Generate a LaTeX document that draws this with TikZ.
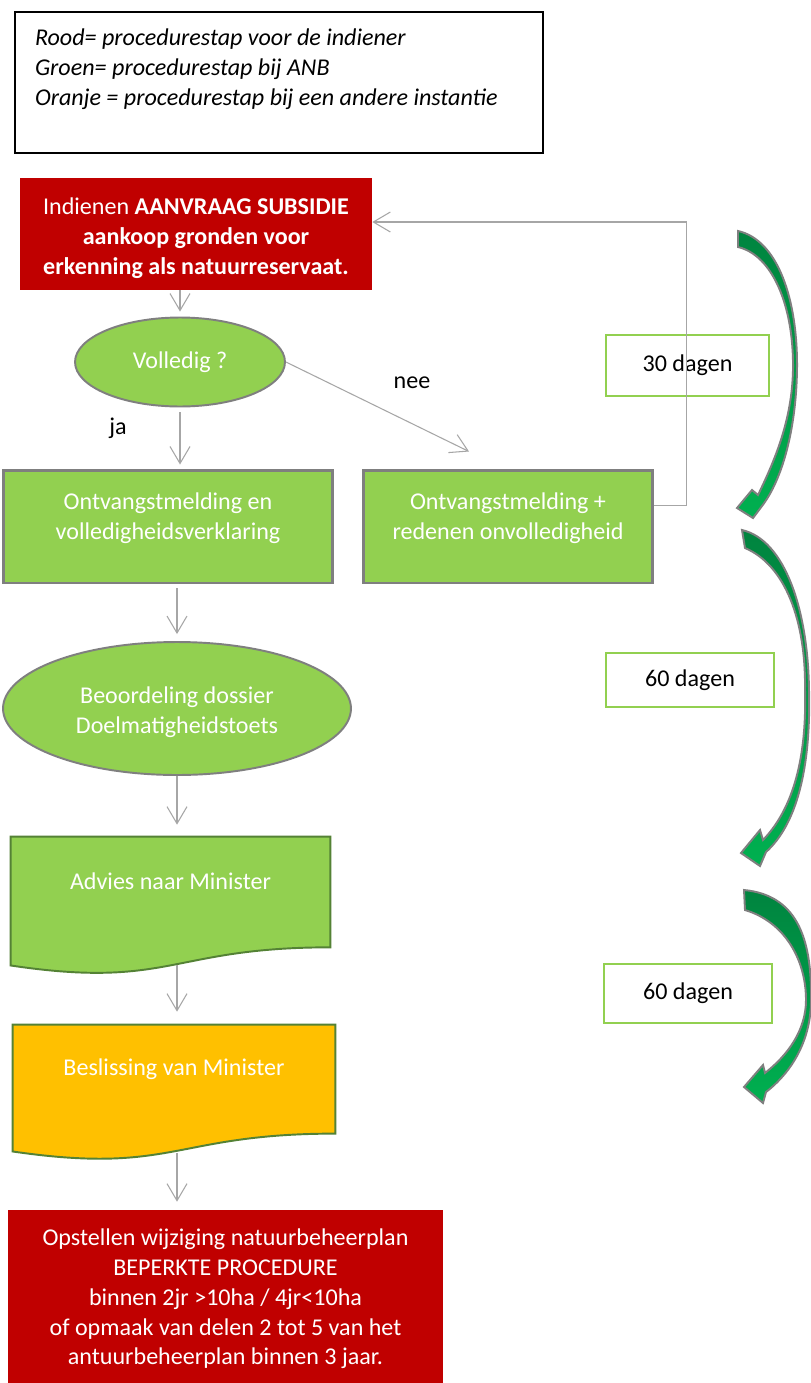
\documentclass[tikz,border=0pt]{standalone}
\usepackage{fontspec}
\setmainfont{Carlito}
\usetikzlibrary{shapes.geometric,arrows.meta,calc,backgrounds}
\definecolor{rood}{HTML}{C00000}
\definecolor{groen}{HTML}{92D050}
\definecolor{oranje}{HTML}{FFC000}
\definecolor{randgrijs}{HTML}{7F7F7F}
\definecolor{lijngrijs}{HTML}{A6A6A6}
\definecolor{docrand}{HTML}{548235}
\definecolor{pijldonker}{HTML}{00843F}
\definecolor{pijllicht}{HTML}{00B050}
\newcommand{\docvorm}[2]{%
  \draw[docrand, line width=1.1pt, fill=#2] (#1.north west) -- (#1.north east)
    -- ($(#1.north east)!0.86!(#1.south east)$)
    .. controls ($(#1.north)!0.86!(#1.south)$) and ($(#1.north)!1.187!(#1.south)$)
    .. ($(#1.north west)!1.001!(#1.south west)$) -- cycle;}
\begin{document}
\begin{tikzpicture}
    [%%%%%%%%%%%%%%%%%%%%%%%%%%%%%%
        x=0.02cm, y=-0.02cm,
        tekst/.style={font=\fontsize{13.7}{17}\selectfont,
            execute at begin node={\spaceskip=\fontdimen2\font\relax\xspaceskip=\fontdimen2\font\relax}},
        rodebox/.style={tekst, rectangle, fill=rood, text=white, align=center},
        groenbox/.style={tekst, rectangle, draw=randgrijs, line width=1.7pt, fill=groen, text=white, align=center},
        groenovaal/.style={tekst, ellipse, draw=randgrijs, line width=1.1pt, fill=groen, text=white, align=center, inner sep=0pt},
        docbox/.style={tekst, rectangle, text=white, inner sep=0pt},
        dagenbox/.style={tekst, rectangle, draw=groen, line width=1.4pt},
        verbinding/.style={draw=lijngrijs, line width=0.6pt, -{Straight Barb[length=0.34cm,width=0.4cm]}},
        bocht/.style={draw=randgrijs, line width=1.1pt, top color=pijldonker, bottom color=pijllicht},
    ]%%%%%%%%%%%%%%%%%%%%%%%%%%%%%%
\useasboundingbox (0,0) rectangle (811,1383);
\begin{scope}[on background layer]
\fill[white] (0,0) rectangle (811,1383);
\end{scope}

% legenda
\node[tekst, draw=black, line width=0.85pt, minimum width=10.56cm, minimum height=2.82cm,
      text width=9.76cm, align=left, text height=0.32cm, text depth=1.8cm,
      font=\fontsize{13.7}{17}\selectfont\itshape] (legenda) at (279,82.5)
      {Rood= procedurestap voor de indiener\\Groen= procedurestap bij ANB\\Oranje = procedurestap bij een andere instantie};

% stappen
\node[rodebox, minimum width=7.04cm, minimum height=2.24cm, text width=6.8cm, text height=0.32cm, text depth=1.1cm] (aanvraag) at (196,234)
      {Indienen \textbf{AANVRAAG SUBSIDIE}\\\textbf{aankoop gronden voor}\\\textbf{erkenning als natuurreservaat.}};
\node[groenovaal, minimum width=4.2cm, minimum height=1.78cm] (volledig) at (180,362) {Volledig ?};
\node[tekst] (ja) at (118,428) {ja};
\node[tekst] (nee) at (412,383) {nee};
\node[groenbox, minimum width=6.6cm, minimum height=2.26cm, text width=6.2cm, text height=0.32cm, text depth=1.0cm] (ontvangst) at (168,526.5)
      {Ontvangstmelding en\\volledigheidsverklaring};
\node[groenbox, minimum width=5.8cm, minimum height=2.26cm, text width=5.4cm, text height=0.32cm, text depth=1.0cm] (onvolledig) at (508,526.5)
      {Ontvangstmelding +\\redenen onvolledigheid};
\node[groenovaal, minimum width=6.96cm, minimum height=2.66cm, text width=4.4cm, text height=0.32cm, text depth=0.52cm] (beoordeling) at (177,708.5)
      {Beoordeling dossier\\Doelmatigheidstoets};
\node[docbox, minimum width=6.38cm, minimum height=2.56cm, text height=0.32cm, text depth=0.78cm] (advies) at (170.5,901) {Advies naar Minister};
\node[docbox, minimum width=6.44cm, minimum height=2.52cm, text height=0.32cm, text depth=0.82cm] (beslissing) at (174,1088) {Beslissing van Minister};
\node[rodebox, minimum width=8.7cm, minimum height=3.6cm, text width=8.3cm, text height=0.32cm, text depth=2.5cm] (opstellen) at (225.5,1300)
      {Opstellen wijziging natuurbeheerplan\\BEPERKTE PROCEDURE\\binnen 2jr >10ha / 4jr<10ha\\of opmaak van delen 2 tot 5 van het\\antuurbeheerplan binnen 3 jaar.};
\begin{scope}[on background layer]
\docvorm{advies}{groen}
\docvorm{beslissing}{oranje}
\end{scope}

% termijnen
\node[dagenbox, minimum width=3.26cm, minimum height=1.22cm] (dagen1) at (687.5,365.5) {30 dagen};
\node[dagenbox, minimum width=3.36cm, minimum height=1.08cm] (dagen2) at (690,680) {60 dagen};
\node[dagenbox, minimum width=3.36cm, minimum height=1.18cm] (dagen3) at (688,993.5) {60 dagen};

% verbindingen
\draw[verbinding, shorten >=0.1cm] (volledig.north |- aanvraag.south) -- (volledig.north);
\draw[verbinding, shorten <=0.1cm, shorten >=0.08cm] (volledig.south) -- (volledig.south |- ontvangst.north);
\draw[verbinding] (volledig.east) -- ($(onvolledig.north)+(-39,-17)$);
\draw[verbinding] ($(onvolledig.east)+(0,-21)$) -- ++(32,0) |- ($(aanvraag.east)+(0,-12)$);
\draw[verbinding, shorten <=0.08cm, shorten >=0.14cm] (beoordeling.north |- ontvangst.south) -- (beoordeling.north);
\draw[verbinding, shorten >=0.24cm] (beoordeling.south) -- (beoordeling.south |- advies.north);
\draw[verbinding, shorten >=0.26cm] (advies.south -| beoordeling.south) -- (beslissing.north -| beoordeling.south);
\draw[verbinding, shorten <=0.04cm, shorten >=0.16cm] (beslissing.south -| beoordeling.south) -- (opstellen.north -| beoordeling.south);

% gebogen pijlen
\path[bocht] (738,231) .. controls (778,240) and (798,300) .. (797,370)
    .. controls (796,430) and (782,480) .. (762,506) -- (753,518) -- (737,508) -- (752,490) -- (758,495)
    .. controls (775,460) and (792,420) .. (793,370) .. controls (794,305) and (772,255) .. (738,247) -- cycle;
\path[bocht] (742,530) .. controls (785,540) and (808,610) .. (809,690)
    .. controls (811,770) and (796,825) .. (766,852) -- (760,866) -- (741,853) -- (760,830) -- (763,840)
    .. controls (790,812) and (807,765) .. (805,690) .. controls (806,620) and (785,565) .. (745,548) -- cycle;
\path[bocht] (744,890) .. controls (795,895) and (812,935) .. (811,1000)
    .. controls (811,1040) and (792,1072) .. (766,1092) -- (763,1103) -- (744,1087) -- (763,1065) -- (765,1073)
    .. controls (788,1055) and (806,1030) .. (806,1000) .. controls (806,960) and (785,922) .. (745,910) -- cycle;
\end{tikzpicture}
\end{document}
